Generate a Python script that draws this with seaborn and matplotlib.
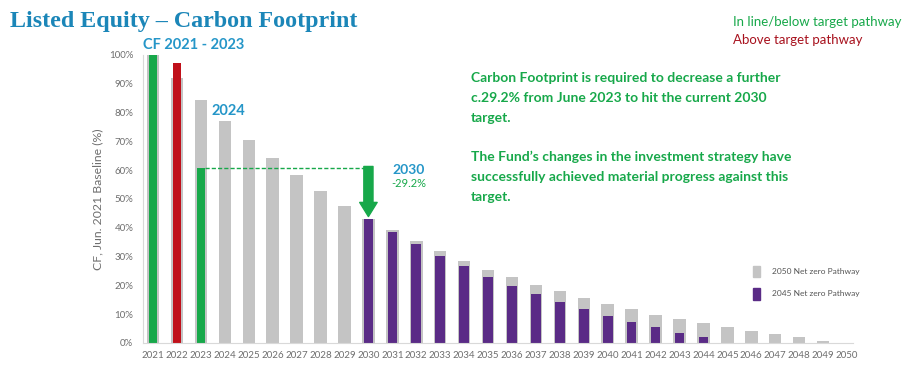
import matplotlib
matplotlib.use("Agg")
import matplotlib.pyplot as plt
from matplotlib.patches import Patch
import seaborn as sns
import pandas as pd

# ---- data -------------------------------------------------------------
years = [str(y) for y in range(2021, 2051)]

pathway_2050 = [100, 91.9, 84.3, 77.2, 70.5, 64.1, 58.2, 52.7, 47.5, 43.2,
                39.2, 35.3, 31.8, 28.5, 25.4, 22.9, 20.2, 17.9, 15.5, 13.6,
                11.7, 9.8, 8.3, 6.9, 5.5, 4.0, 3.0, 2.0, 0.8, 0.0]

pathway_2045_years = [str(y) for y in range(2030, 2051)]
pathway_2045 = [42.9, 38.6, 34.5, 30.3, 26.6, 22.9, 19.9, 17.1, 14.4, 11.7,
                9.5, 7.2, 5.7, 3.4, 2.0, 0.0, 0.0, 0.0, 0.0, 0.0, 0.0]

cf_years = ["2021", "2022", "2023"]
cf_values = [100, 97.2, 60.9]
cf_status = ["In line/below target pathway", "Above target pathway",
             "In line/below target pathway"]

target_2030_change = "-29.2%"

# ---- colours ----------------------------------------------------------
GREEN = "#17a84a"
RED = "#c0101a"
GREY = "#c4c4c4"
PURPLE = "#5a2b86"
BLUE = "#2596c8"
TITLE_BLUE = "#1b86b8"
TICK_GREY = "#6e6e6e"

sns.set_theme(style="white")
plt.rcParams["font.family"] = ["Lato", "DejaVu Sans"]

W, H = 917, 365
fig = plt.figure(figsize=(W / 100, H / 100), dpi=100)
fig.patch.set_facecolor("white")

ax = fig.add_axes([143 / W, 1 - 343 / H, (853 - 143) / W, (343 - 55) / H])

df50 = pd.DataFrame({"year": years, "value": pathway_2050})
df45 = pd.DataFrame({"year": pathway_2045_years, "value": pathway_2045})
dfcf = pd.DataFrame({"year": cf_years, "value": cf_values, "status": cf_status})

bar_kw = dict(saturation=1, linewidth=0, edgecolor="none", ax=ax)
sns.barplot(data=df50, x="year", y="value", order=years, color=GREY,
            width=0.52, **bar_kw)
sns.barplot(data=df45, x="year", y="value", order=years, color=PURPLE,
            width=0.40, **bar_kw)
sns.barplot(data=dfcf, x="year", y="value", order=years, hue="status",
            palette={"In line/below target pathway": GREEN,
                     "Above target pathway": RED},
            dodge=False, width=0.36, legend=False, **bar_kw)

ax.set_xlim(-0.42, 29.25)
ax.set_ylim(0, 100)
ax.set_yticks(range(0, 101, 10))
ax.set_yticklabels([f"{v}%" for v in range(0, 101, 10)])
ax.set_xlabel("")
ax.set_ylabel("CF, Jun. 2021 Baseline (%)", fontsize=8.8, color=TICK_GREY,
              labelpad=4)
ax.tick_params(axis="both", length=0, labelsize=7, colors=TICK_GREY)
ax.tick_params(axis="y", pad=7)
ax.tick_params(axis="x", pad=6)
for side in ["top", "right"]:
    ax.spines[side].set_visible(False)
for side in ["left", "bottom"]:
    ax.spines[side].set_color("#d9d9d9")
    ax.spines[side].set_linewidth(0.8)

# dashed reference from the 2023 footprint to the 2030 target
y23 = cf_values[2]
ax.plot([2.18, 9.0], [y23, y23], color=GREEN, lw=1.0, ls=(0, (3, 1.5)))
ax.annotate("", xy=(9, pathway_2045[0] + 1.0), xytext=(9, y23 + 0.4),
            arrowprops=dict(arrowstyle="simple,head_width=1.05,head_length=0.85,tail_width=0.55",
                            color=GREEN, mutation_scale=12, shrinkA=0, shrinkB=0))

ax.text(10.0, 60.2, "2030", color=BLUE, fontsize=10, fontweight="bold",
        ha="left", va="center")
ax.text(9.95, 55.3, target_2030_change, color=GREEN, fontsize=8,
        ha="left", va="center")
ax.text(2.45, 80.5, "2024", color=BLUE, fontsize=10.5, fontweight="bold",
        ha="left", va="center")

# pathway legend
ax.legend(handles=[Patch(color=GREY), Patch(color=PURPLE)],
          labels=["2050 Net zero Pathway", "2045 Net zero Pathway"],
          loc="upper left", bbox_to_anchor=(745 / W, 1 - 258 / H),
          bbox_transform=fig.transFigure, frameon=False, fontsize=6,
          handlelength=0.9, handleheight=1.8, handletextpad=1.5,
          labelspacing=1.25, labelcolor="#555555")

# title, period label and status key
fig.text(10 / W, 1 - 21 / H, "Listed Equity \u2013 Carbon Footprint",
         family=["Liberation Serif", "DejaVu Serif"], fontsize=17.3,
         fontweight="bold", color=TITLE_BLUE, ha="left", va="center")
fig.text(143 / W, 1 - 45 / H, "CF 2021 - 2023", color=BLUE, fontsize=10.5,
         fontweight="bold", ha="left", va="center")
fig.text(733 / W, 1 - 22 / H, "In line/below target pathway", color=GREEN,
         fontsize=9.5, ha="left", va="center")
fig.text(733 / W, 1 - 40 / H, "Above target pathway", color="#a8121e",
         fontsize=9.5, ha="left", va="center")

# commentary
para1 = ["Carbon Footprint is required to decrease a further",
         "c.29.2% from June 2023 to hit the current 2030",
         "target."]
para2 = ["The Fund\u2019s changes in the investment strategy have",
         "successfully achieved material progress against this",
         "target."]
for i, line in enumerate(para1):
    fig.text(471 / W, 1 - (78 + 20 * i) / H, line, color=GREEN, fontsize=10,
             fontweight="bold", ha="left", va="center")
for i, line in enumerate(para2):
    fig.text(471 / W, 1 - (157 + 20 * i) / H, line, color=GREEN, fontsize=10,
             fontweight="bold", ha="left", va="center")

fig.savefig("out.png", dpi=100, facecolor="white")
